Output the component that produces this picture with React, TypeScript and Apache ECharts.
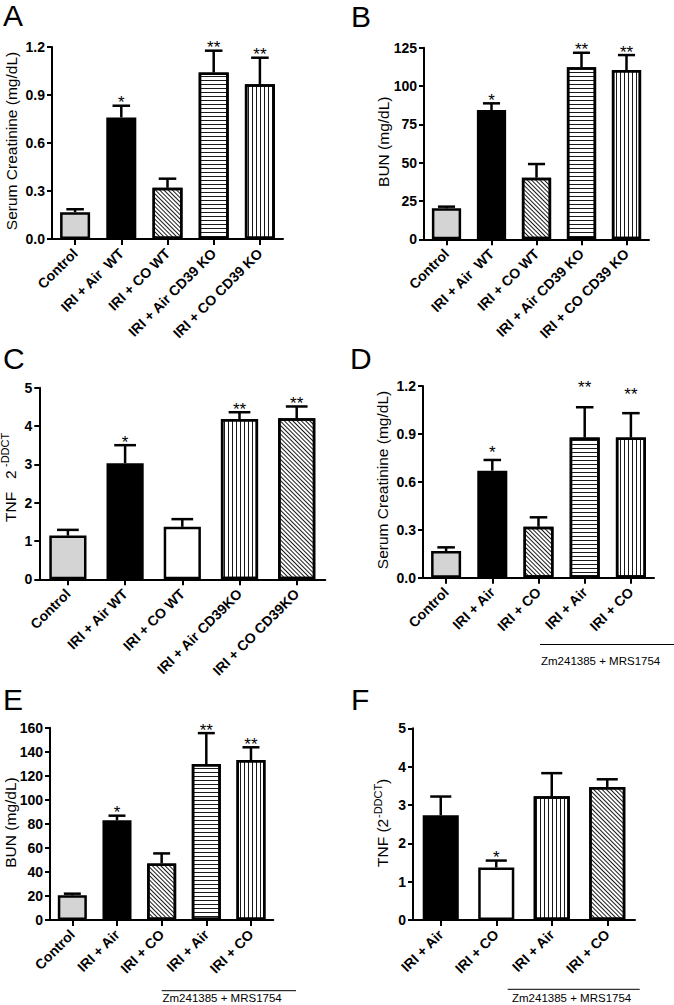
import React, { useEffect, useRef } from "react";
import * as echarts from "echarts";

// ---------------- Data ----------------
const aCategories = ["Control", "IRI + Air  WT", "IRI + CO WT", "IRI + Air CD39 KO", "IRI + CO CD39 KO"];
const aValues = [0.167, 0.76, 0.32, 1.04, 0.967];
const aSem = [0.019, 0.073, 0.057, 0.137, 0.166];
const aStars = ["", "*", "", "**", "**"];
const aAxis = { max: 1.2, step: 0.3, decimals: 1 };

const bCategories = ["Control", "IRI + Air  WT", "IRI + CO WT", "IRI + Air CD39 KO", "IRI + CO CD39 KO"];
const bValues = [20.2, 84.3, 40.2, 112.2, 110.4];
const bSem = [1.1, 4.4, 8.9, 9.5, 9.8];
const bStars = ["", "*", "", "**", "**"];
const bAxis = { max: 125, step: 25, decimals: 0 };

const cCategories = ["Control", "IRI + Air WT", "IRI + CO WT", "IRI + Air CD39KO", "IRI + CO CD39KO"];
const cValues = [1.14, 3.03, 1.37, 4.18, 4.2];
const cSem = [0.15, 0.47, 0.2, 0.18, 0.31];
const cStars = ["", "*", "", "**", "**"];
const cAxis = { max: 5, step: 1, decimals: 0 };

const dCategories = ["Control", "IRI + Air", "IRI + CO", "IRI + Air", "IRI + CO"];
const dValues = [0.167, 0.67, 0.319, 0.877, 0.877];
const dSem = [0.023, 0.067, 0.059, 0.19, 0.153];
const dStars = ["", "*", "", "**", "**"];
const dStarLevels = [null, 0.81, null, 1.217, 1.171];
const dAxis = { max: 1.2, step: 0.3, decimals: 1 };

const eCategories = ["Control", "IRI + Air", "IRI + CO", "IRI + Air", "IRI + CO"];
const eValues = [20.5, 82.9, 47.1, 129.8, 133.1];
const eSem = [1.4, 3.9, 8.3, 25.7, 10.6];
const eStars = ["", "*", "", "**", "**"];
const eAxis = { max: 160, step: 20, decimals: 0 };

const fCategories = ["IRI + Air", "IRI + CO", "IRI + Air", "IRI + CO"];
const fValues = [2.73, 1.37, 3.23, 3.47];
const fSem = [0.49, 0.18, 0.6, 0.2];
const fStars = ["", "*", "", ""];
const fAxis = { max: 5, step: 1, decimals: 0 };

const treatmentNote = "Zm241385 + MRS1754";

// ---------------- Styles / layout ----------------
const FONT = "'Liberation Sans', Arial, Helvetica, sans-serif";

const fillStyle = (kind: string): any => {
  switch (kind) {
    case "gray":
      return { color: "#d4d4d4" };
    case "black":
      return { color: "#000000" };
    case "white":
      return { color: "#ffffff" };
    case "hline":
      return {
        color: "#ffffff",
        decal: { symbol: "rect", symbolSize: 1, color: "#1a1a1a", dashArrayX: [10, 0], dashArrayY: [1, 3], rotation: 0 },
      };
    case "vline":
      return {
        color: "#ffffff",
        decal: { symbol: "rect", symbolSize: 1, color: "#1a1a1a", dashArrayX: [1, 3], dashArrayY: [10, 0], rotation: 0 },
      };
    case "diag":
      return {
        color: "#ffffff",
        decal: { symbol: "rect", symbolSize: 1, color: "#1a1a1a", dashArrayX: [10, 0], dashArrayY: [1, 2], rotation: Math.PI / 4 },
      };
  }
  return { color: "#fff" };
};

const panels = [
  { cats: aCategories, values: aValues, sem: aSem, stars: aStars, starLevels: null as any, axis: aAxis,
    fills: ["gray", "black", "diag", "hline", "vline"], grid: { left: 52, top: 47, width: 231, height: 192 } },
  { cats: bCategories, values: bValues, sem: bSem, stars: bStars, starLevels: null as any, axis: bAxis,
    fills: ["gray", "black", "diag", "hline", "vline"], grid: { left: 424, top: 47.7, width: 225, height: 191.6 } },
  { cats: cCategories, values: cValues, sem: cSem, stars: cStars, starLevels: null as any, axis: cAxis,
    fills: ["gray", "black", "white", "vline", "diag"], grid: { left: 39.3, top: 387.7, width: 286, height: 191.6 } },
  { cats: dCategories, values: dValues, sem: dSem, stars: dStars, starLevels: dStarLevels, axis: dAxis,
    fills: ["gray", "black", "diag", "hline", "vline"], grid: { left: 423, top: 386, width: 231, height: 191.7 } },
  { cats: eCategories, values: eValues, sem: eSem, stars: eStars, starLevels: null as any, axis: eAxis,
    fills: ["gray", "black", "diag", "hline", "vline"], grid: { left: 50, top: 727.7, width: 223.3, height: 192.3 } },
  { cats: fCategories, values: fValues, sem: fSem, stars: fStars, starLevels: null as any, axis: fAxis,
    fills: ["black", "white", "vline", "diag"], grid: { left: 413, top: 728.3, width: 222, height: 191.7 } },
];

const textEl = (text: string, x: number, y: number, fontSize: number, opts: any = {}) => ({
  type: "text",
  x,
  y,
  rotation: opts.rotation || 0,
  silent: true,
  style: {
    text,
    fontSize,
    fontFamily: FONT,
    fontWeight: opts.fontWeight || "normal",
    fill: "#000",
    align: opts.align || "left",
    verticalAlign: opts.verticalAlign || "top",
    textAlign: opts.align || "left",
    textVerticalAlign: opts.verticalAlign || "top",
  },
});

const lineEl = (x1: number, y1: number, x2: number, y2: number) => ({
  type: "line",
  silent: true,
  shape: { x1, y1, x2, y2 },
  style: { stroke: "#000", lineWidth: 1 },
});

const R = Math.PI / 2;

const graphics = [
  // panel letters
  textEl("A", 3, 0, 30),
  textEl("B", 351, 1, 30),
  textEl("C", 3, 343, 30),
  textEl("D", 350, 343, 30),
  textEl("E", 3, 684.5, 30),
  textEl("F", 351, 684, 30),
  // y axis names
  textEl("Serum Creatinine (mg/dL)", 11.5, 141, 15.5, { rotation: R, align: "center", verticalAlign: "middle" }),
  textEl("BUN (mg/dL)", 383, 141.7, 15.5, { rotation: R, align: "center", verticalAlign: "middle" }),
  textEl("TNF", 10, 522, 15.5, { rotation: R, align: "left", verticalAlign: "middle" }),
  textEl("2", 10, 479, 15.5, { rotation: R, align: "left", verticalAlign: "middle" }),
  textEl("-DDCT", 5, 467, 11, { rotation: R, align: "left", verticalAlign: "middle" }),
  textEl("Serum Creatinine (mg/dL)", 382, 480, 15.5, { rotation: R, align: "center", verticalAlign: "middle" }),
  textEl("BUN (mg/dL)", 10, 822.5, 15.5, { rotation: R, align: "center", verticalAlign: "middle" }),
  textEl("TNF (2", 382, 867, 15.5, { rotation: R, align: "left", verticalAlign: "middle" }),
  textEl("-DDCT", 377.5, 818, 11, { rotation: R, align: "left", verticalAlign: "middle" }),
  textEl(")", 382, 784, 15.5, { rotation: R, align: "left", verticalAlign: "middle" }),
  // treatment brackets
  lineEl(540, 644.5, 674, 644.5),
  textEl(treatmentNote, 541, 655, 11.5),
  lineEl(161.7, 990.7, 296, 990.7),
  textEl(treatmentNote, 162.5, 991.5, 11.5),
  lineEl(507.7, 989.3, 639.7, 989.3),
  textEl(treatmentNote, 512, 991.5, 11.5),
];

export default function App() {
  const ref = useRef<HTMLDivElement>(null);

  useEffect(() => {
    document.body.style.margin = "0";
    if (!ref.current) return;
    const chart = echarts.init(ref.current, undefined, { renderer: "svg", width: 674, height: 1005 });

    const grids: any[] = [];
    const xAxes: any[] = [];
    const yAxes: any[] = [];
    const series: any[] = [];

    panels.forEach((p, idx) => {
      grids.push({ ...p.grid, containLabel: false });
      xAxes.push({
        type: "category",
        gridIndex: idx,
        data: p.cats,
        axisLine: { show: true, onZero: false, lineStyle: { color: "#000", width: 2 } },
        axisTick: { show: true, alignWithLabel: true, length: 6, lineStyle: { color: "#000", width: 2 } },
        axisLabel: {
          interval: 0,
          rotate: 45,
          margin: 12,
          color: "#000",
          fontFamily: FONT,
          fontWeight: "bold",
          fontSize: 14,
        },
        splitLine: { show: false },
      });
      yAxes.push({
        type: "value",
        gridIndex: idx,
        min: 0,
        max: p.axis.max,
        interval: p.axis.step,
        axisLine: { show: true, lineStyle: { color: "#000", width: 2 } },
        axisTick: { show: true, length: 5, lineStyle: { color: "#000", width: 2 } },
        axisLabel: {
          margin: 7,
          color: "#000",
          fontFamily: FONT,
          fontWeight: "bold",
          fontSize: 14,
          formatter: (v: number) => v.toFixed(p.axis.decimals),
        },
        splitLine: { show: false },
      });
      series.push({
        type: "bar",
        xAxisIndex: idx,
        yAxisIndex: idx,
        barWidth: "65%",
        itemStyle: { borderColor: "#000", borderWidth: 2.5 },
        data: p.values.map((v, i) => ({
          value: v,
          itemStyle: { ...fillStyle(p.fills[i]), borderColor: "#000", borderWidth: 2.5 },
        })),
        z: 2,
      });
      series.push({
        type: "custom",
        xAxisIndex: idx,
        yAxisIndex: idx,
        z: 5,
        data: p.values.map((v, i) => [i, v, p.sem[i]]),
        renderItem: (params: any, api: any) => {
          const i = api.value(0);
          const v = api.value(1);
          const e = api.value(2);
          const base = api.coord([i, v]);
          const top = api.coord([i, v + e]);
          const band = api.size([1, 0], [i, v])[0];
          const half = band * 0.19;
          const children: any[] = [
            { type: "line", shape: { x1: base[0], y1: base[1], x2: top[0], y2: top[1] }, style: { stroke: "#000", lineWidth: 2.5 } },
            { type: "line", shape: { x1: top[0] - half, y1: top[1], x2: top[0] + half, y2: top[1] }, style: { stroke: "#000", lineWidth: 2.5 } },
          ];
          const s = p.stars[params.dataIndex];
          if (s) {
            const lvl =
              p.starLevels && p.starLevels[params.dataIndex] != null
                ? api.coord([i, p.starLevels[params.dataIndex]])[1]
                : top[1] - 7;
            children.push({
              type: "text",
              x: top[0],
              y: lvl + 4,
              style: {
                text: s,
                fontSize: 17,
                fontFamily: FONT,
                fill: "#000",
                align: "center",
                verticalAlign: "middle",
              },
            });
          }
          return { type: "group", children };
        },
      });
    });

    chart.setOption({
      animation: false,
      backgroundColor: "#ffffff",
      grid: grids,
      xAxis: xAxes,
      yAxis: yAxes,
      series,
      graphic: { elements: graphics },
    });

    return () => chart.dispose();
  }, []);

  return <div ref={ref} style={{ width: 674, height: 1005 }} />;
}
